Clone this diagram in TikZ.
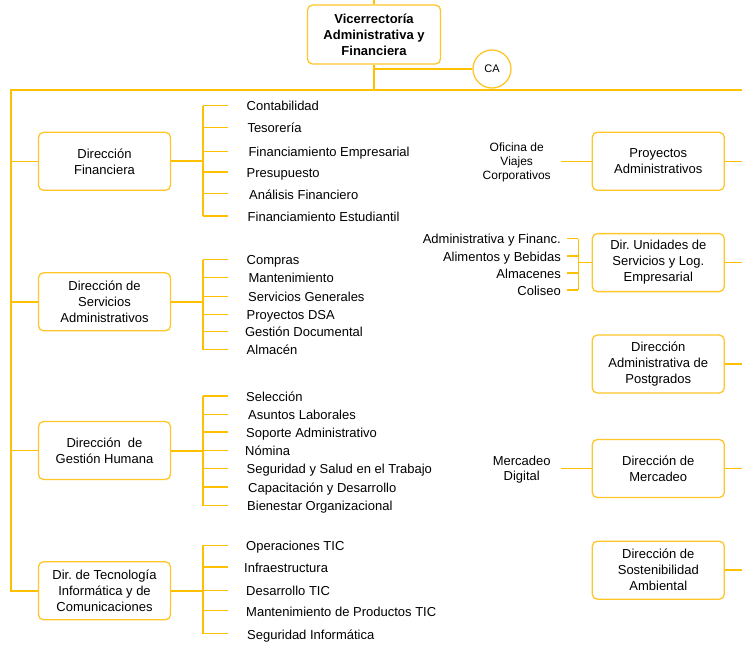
\documentclass[tikz,border=0pt]{standalone}
\usepackage{fontspec}
\setmainfont{Liberation Sans}
\usepackage{tikz}
\usetikzlibrary{positioning, calc}
\usepackage{xcolor}
\definecolor{gold}{HTML}{FFC000}
\definecolor{goldbox}{HTML}{FFC62A}
\frenchspacing
\tikzstyle{unitbox} = [rectangle, rounded corners=5pt, draw=goldbox, line width=1.3pt, fill=white, minimum width=132pt, minimum height=58pt, align=center, inner sep=2pt, font=\fontsize{13}{16}\selectfont]
\tikzstyle{item} = [anchor=west, inner sep=0pt, text height=11pt, text depth=0.2pt, font=\fontsize{13}{16}\selectfont]
\tikzstyle{trunk} = [gold, line width=2pt]
\tikzstyle{tick} = [gold, line width=1.5pt]

\begin{document}
\begin{tikzpicture}[x=1pt, y=-1pt]
    \useasboundingbox (0,0) rectangle (742,646);

    % Vicerrectoria box
    \node (vice) [unitbox, minimum width=133pt, minimum height=59pt, font=\bfseries\fontsize{13}{16}\selectfont] at (374,34.5) {Vicerrector\'ia\\Administrativa y\\Financiera};
    \node (ca) [circle, draw=goldbox, line width=1.3pt, minimum size=38pt, inner sep=0pt, font=\fontsize{11}{13}\selectfont] at (492,69) {CA};
    \coordinate (top) at (374,0);
    \coordinate (ltop) at (11,90);
    \coordinate (rtop) at (742,90);

    \draw [trunk] (vice.north) -- (top);
    \draw [trunk] (vice.south) -- (vice.south |- ltop);
    \draw [tick] (vice.south |- ca) -- (ca.west);
    \draw [trunk, line cap=rect] (rtop) -- (ltop) -- (11,590.5);

    % Left directions
    \node (fin) [unitbox] at (104.5,161.3) {Direcci\'on\\Financiera};
    \node (sad) [unitbox] at (104.5,301.8) {Direcci\'on de\\Servicios\\Administrativos};
    \node (gh) [unitbox] at (104.5,450.5) {Direcci\'on\ \ de\\Gesti\'on Humana};
    \node (tic) [unitbox] at (104.5,590.8) {Dir. de Tecnolog\'ia\\Inform\'atica y de\\Comunicaciones};

    \foreach \d in {fin, sad, gh, tic} {
        \draw [tick] (ltop |- \d) -- (\d.west);
        \coordinate (\d bus) at (203,0 |- \d);
        \draw [tick, line width=2pt] (\d.east) -- (\d bus);
    }

    % Financiera items
    \foreach \x/\y/\lbl [count=\i] in {246.5/105.5/Contabilidad, 247.3/127.5/Tesorer\'ia, 248.3/151.3/Financiamiento Empresarial,
        246.5/172/Presupuesto, 249/193.7/An\'alisis Financiero, 247.5/216/Financiamiento Estudiantil} {
        \node (fin\i) [item] at (\x,\y) {\lbl};
        \draw [tick] (finbus |- fin\i) -- ++(25,0);
    }
    \draw [tick] (finbus |- fin1) -- (finbus |- fin6);

    % Servicios items
    \foreach \x/\y/\lbl [count=\i] in {246.5/259.5/Compras, 248.3/277.5/Mantenimiento, 248/296.3/Servicios Generales,
        246.5/314.5/Proyectos DSA, 244.8/331.3/Gesti\'on Documental, 246.5/349.5/Almac\'en} {
        \node (sad\i) [item] at (\x,\y) {\lbl};
        \draw [tick] (sadbus |- sad\i) -- ++(25,0);
    }
    \draw [tick] (sadbus |- sad1) -- (sadbus |- sad6);

    % Gestion Humana items
    \foreach \x/\y/\lbl [count=\i] in {246/396/Selecci\'on, 248/414.3/Asuntos Laborales, 246/432/Soporte Administrativo,
        245/450.3/N\'omina, 246.5/468.5/Seguridad y Salud en el Trabajo, 248/487/Capacitaci\'on y Desarrollo,
        247/505.5/Bienestar Organizacional} {
        \node (gh\i) [item] at (\x,\y) {\lbl};
        \draw [tick] (ghbus |- gh\i) -- ++(25,0);
    }
    \draw [tick] (ghbus |- gh1) -- (ghbus |- gh7);

    % TIC items
    \foreach \x/\y/\lbl [count=\i] in {246/545.3/Operaciones TIC, 244/567/Infraestructura, 246/590.5/Desarrollo TIC,
        246/610.7/Mantenimiento de Productos TIC, 247/633.7/Seguridad Inform\'atica} {
        \node (tic\i) [item] at (\x,\y) {\lbl};
        \draw [tick] (ticbus |- tic\i) -- ++(25,0);
    }
    \draw [tick] (ticbus |- tic1) -- (ticbus |- tic5);

    % Right directions
    \node (proy) [unitbox] at (658.3,161.3) {Proyectos\\Administrativos};
    \node (dus) [unitbox] at (658.3,262.6) {Dir. Unidades de\\Servicios y Log.\\Empresarial};
    \node (pos) [unitbox] at (658.3,364) {Direcci\'on\\Administrativa de\\Postgrados};
    \node (mer) [unitbox] at (658.3,468.5) {Direcci\'on de\\Mercadeo};
    \node (sos) [unitbox] at (658.3,570.2) {Direcci\'on de\\Sostenibilidad\\Ambiental};

    \foreach \d in {proy, dus, pos, mer, sos}
        \draw [tick] (\d.east) -- (\d.east -| rtop);

    % Side units
    \node (ofi) [align=center, inner sep=0pt, font=\fontsize{12}{14}\selectfont] at (516.7,162.5) {Oficina de\\Viajes\\Corporativos};
    \node (mdig) [align=center, inner sep=0pt, font=\fontsize{13}{14.3}\selectfont] at (521.7,469.5) {Mercadeo\\Digital};
    \draw [tick] (proy.west) -- ++(-31,0);
    \draw [tick] (mer.west) -- ++(-31,0);

    \coordinate (dusbus) at (578.3,0 |- dus);
    \draw [tick] (dus.west) -- (dusbus);
    \foreach \y/\lbl [count=\i] in {238.5/Administrativa y Financ., 256/{Alimentos y Bebidas\ }, 273/Almacenes, 290/Coliseo} {
        \node (dus\i) [item, anchor=east] at (561,\y) {\lbl};
        \draw [tick] (dusbus |- dus\i) -- ++(-11.6,0);
    }
    \draw [tick] (dusbus |- dus1) -- (dusbus |- dus4);
\end{tikzpicture}
\end{document}
